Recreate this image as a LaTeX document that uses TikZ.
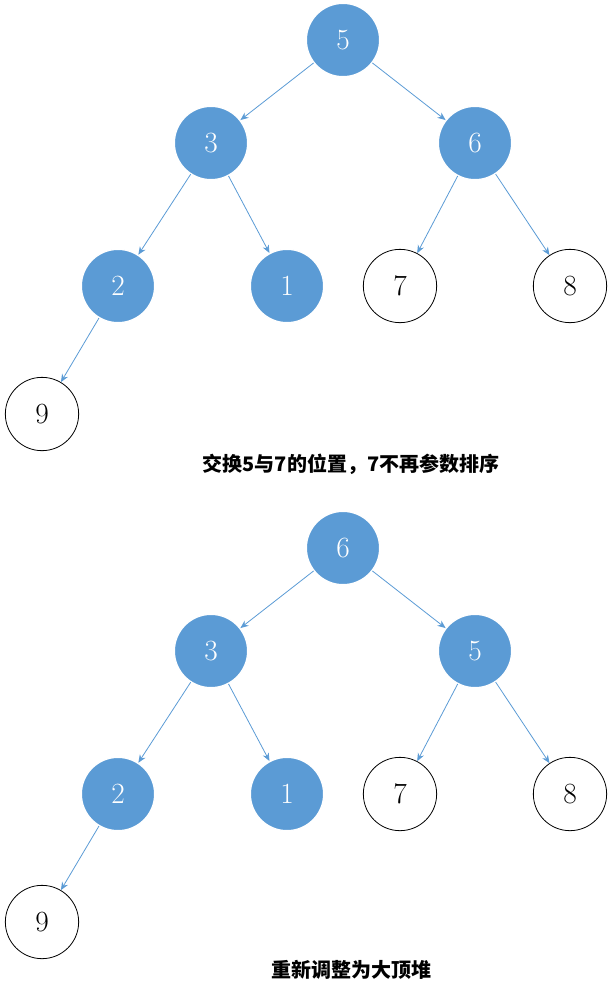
\documentclass[tikz,border=0pt]{standalone}
\usepackage{fontspec}
\newfontfamily\cjk{Noto Sans CJK SC}
\usetikzlibrary{arrows.meta}
\definecolor{nblue}{HTML}{5B9BD5}
\begin{document}
\begin{tikzpicture}[x=0.75pt,y=-0.75pt,
  bn/.style={circle,minimum size=55pt,inner sep=0pt,fill=nblue,draw=white,line width=1pt,text=white,font=\fontsize{22}{24}\selectfont},
  wn/.style={circle,minimum size=55pt,inner sep=0pt,fill=white,draw=black,line width=0.6pt,font=\fontsize{22}{24}\selectfont},
  ed/.style={draw=nblue,line width=0.6pt,-{Stealth[length=6pt,width=5pt]}},
  captext/.style={font=\cjk\bfseries\fontsize{15}{17}\selectfont}]
\useasboundingbox (0,0) rectangle (613,997);
\foreach \dy/\r/\a/\c/\t in {0/5/3/6/a, 508/6/3/5/b}{
  \node[bn] (r\t) at (343,40+\dy) {\r};
  \node[bn] (l\t) at (211,143+\dy) {\a};
  \node[bn] (k\t) at (475,143+\dy) {\c};
  \node[bn] (n2\t) at (118,286+\dy) {2};
  \node[bn] (n1\t) at (287,286+\dy) {1};
  \node[wn] (n7\t) at (400,286+\dy) {7};
  \node[wn] (n8\t) at (570,286+\dy) {8};
  \node[wn] (n9\t) at (42,414+\dy) {9};
  \draw[ed] (r\t) -- (l\t);
  \draw[ed] (r\t) -- (k\t);
  \draw[ed] (l\t) -- (n2\t);
  \draw[ed] (l\t) -- (n1\t);
  \draw[ed] (k\t) -- (n7\t);
  \draw[ed] (k\t) -- (n8\t);
  \draw[ed] (n2\t) -- (n9\t);
}
\node[captext] (c1) at (351,464) {交换5与7的位置，7不再参数排序};
\node[captext] (c2) at (351,970) {重新调整为大顶堆};
\end{tikzpicture}
\end{document}
